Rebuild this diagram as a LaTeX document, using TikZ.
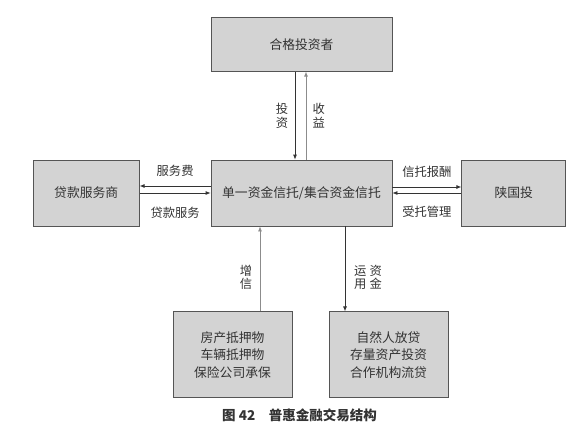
\documentclass[tikz,border=0pt]{standalone}
\usepackage{fontspec}
\setmainfont{Noto Sans CJK SC}
\usetikzlibrary{arrows.meta,positioning}
\definecolor{boxfill}{HTML}{D3D3D3}
\definecolor{boxline}{HTML}{555555}
\definecolor{darkline}{HTML}{333333}
\definecolor{lightline}{HTML}{8C8C8C}
\definecolor{inktext}{HTML}{333333}

\begin{document}
\begin{tikzpicture}[
  x=1pt, y=-1pt,
  party/.style={draw=boxline, fill=boxfill, line width=0.8pt, align=center,
                minimum height=66pt, inner sep=0pt, text=inktext,
                font=\fontsize{12.8}{17.5}\selectfont},
  lbl/.style={text=inktext, align=center, font=\fontsize{12.3}{13.5}\selectfont},
  arrow/.style={-{Latex[length=5pt,width=4pt]}, line width=0.8pt, draw=darkline},
  backarrow/.style={arrow, draw=lightline}
]
\useasboundingbox (0,0) rectangle (584,442);

\node[party, minimum width=181pt] (trust) at (301.5,193) {单一资金信托/集合资金信托};
\node[party, minimum width=181pt, minimum height=54pt, above=88pt of trust] (investor) {合格投资者};
\node[party, minimum width=106pt, left=71pt of trust] (servicer) {贷款服务商};
\node[party, minimum width=104pt, right=69pt of trust] (sxgt) {陕国投};
\node[party, minimum width=119pt, minimum height=86pt, below=85pt of trust, xshift=-69pt] (collateral) {房产抵押物\\车辆抵押物\\保险公司承保};
\node[party, minimum width=119pt, minimum height=86pt, below=85pt of trust, xshift=87pt] (uses) {自然人放贷\\存量资产投资\\合作机构流贷};

\node[font=\bfseries\fontsize{13.5}{15}\selectfont, text=black!80] (caption) at (299.5,415) {图 42\quad 普惠金融交易结构};

% investor <-> trust
\draw[arrow] ([xshift=-6.5pt]investor.south) -- ([xshift=-6.5pt]trust.north)
  node[lbl, midway, left=3pt] {投\\资};
\draw[backarrow] ([xshift=4.5pt]trust.north) -- ([xshift=4.5pt]investor.south)
  node[lbl, midway, right=3pt] {收\\益};

% servicer <-> trust
\draw[arrow] ([yshift=7pt]trust.west) -- ([yshift=7pt]servicer.east)
  node[lbl, midway, above=6pt] {服务费};
\draw[arrow] (servicer.east) -- (trust.west)
  node[lbl, midway, below=10pt] {贷款服务};

% trust <-> sxgt
\draw[arrow] ([yshift=6pt]trust.east) -- ([yshift=6pt]sxgt.west)
  node[lbl, midway, above=5.5pt] {信托报酬};
\draw[arrow] (sxgt.west) -- (trust.east)
  node[lbl, midway, below=9.5pt] {受托管理};

% bottom
\draw[backarrow] ([xshift=27.5pt]collateral.north) -- ([xshift=27.5pt]collateral.north |- trust.south)
  node[lbl, pos=0.4, left=4pt] {增\\信};
\draw[arrow] ([xshift=43.5pt]trust.south) -- ([xshift=43.5pt]trust.south |- uses.north)
  node[lbl, pos=0.6, right=5.5pt] {运\hspace{3pt}资\\用\hspace{3pt}金};
\end{tikzpicture}
\end{document}
